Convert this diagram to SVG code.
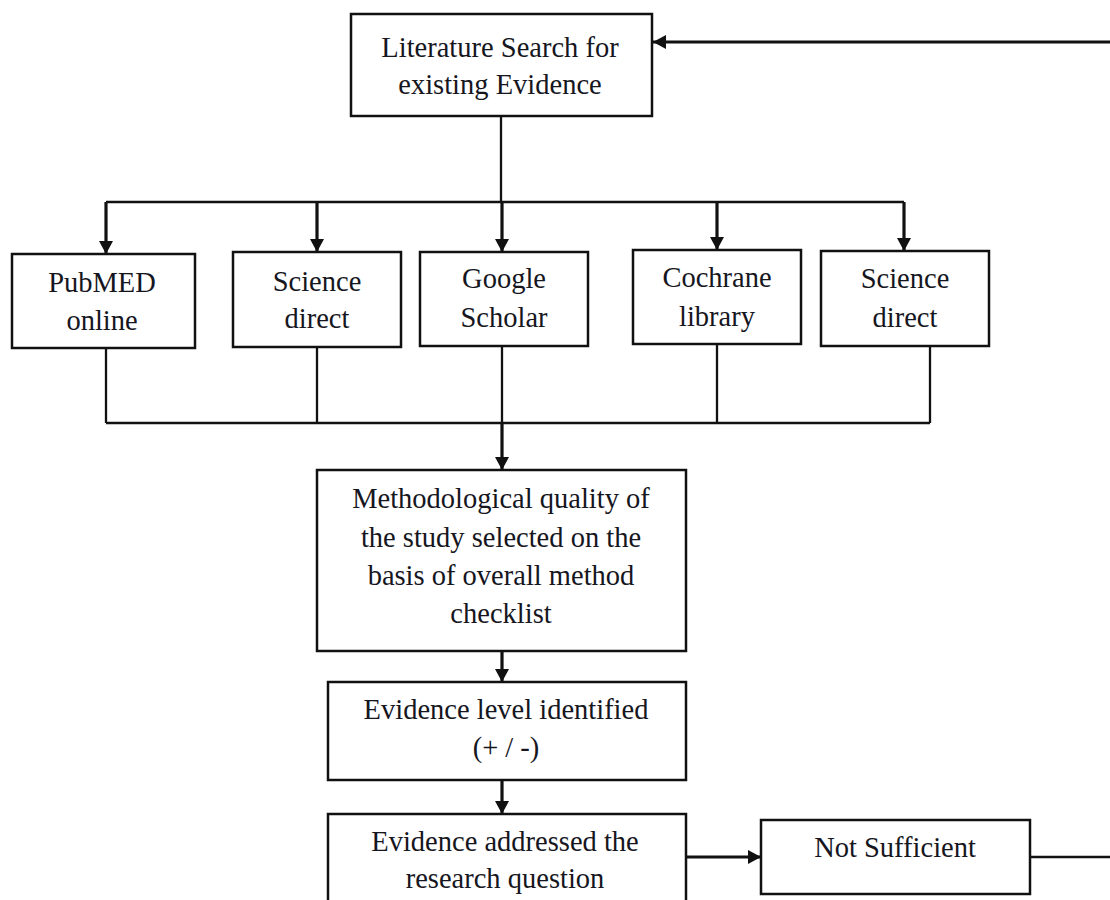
<svg xmlns="http://www.w3.org/2000/svg" width="1110" height="900" viewBox="0 0 1110 900">
<style>
  .box { fill: #ffffff; stroke: #111111; stroke-width: 2.5; }
  .t { font-family: "Liberation Serif", "Times New Roman", serif; font-size: 28.5px; fill: #16161e; text-anchor: middle; }
  .ln { stroke: #111111; stroke-width: 2.3; fill: none; }
  .ar { stroke: #111111; stroke-width: 3.2; fill: none; marker-end: url(#ah); }
</style>
<defs>
  <marker id="ah" markerUnits="userSpaceOnUse" markerWidth="16" markerHeight="16" refX="13" refY="8" orient="auto">
    <path d="M0,1 L13,8 L0,15 z" fill="#111111"/>
  </marker>
</defs>
<rect width="1110" height="900" fill="#ffffff"/>

<g id="connectors">
  <line class="ar" x1="1110" y1="42" x2="653" y2="42"/>
  <line class="ln" x1="501" y1="116" x2="501" y2="202"/>
  <line class="ln" x1="106" y1="202" x2="904" y2="202"/>
  <line class="ar" x1="106" y1="202" x2="106" y2="254"/>
  <line class="ar" x1="317" y1="202" x2="317" y2="252"/>
  <line class="ar" x1="502" y1="202" x2="502" y2="252"/>
  <line class="ar" x1="717" y1="202" x2="717" y2="250"/>
  <line class="ar" x1="904" y1="202" x2="904" y2="251"/>
  <line class="ln" x1="106" y1="348" x2="106" y2="423"/>
  <line class="ln" x1="317" y1="347" x2="317" y2="423"/>
  <line class="ln" x1="502" y1="346" x2="502" y2="423"/>
  <line class="ln" x1="717" y1="344" x2="717" y2="423"/>
  <line class="ln" x1="930" y1="346" x2="930" y2="423"/>
  <line class="ln" x1="106" y1="423" x2="930" y2="423"/>
  <line class="ar" x1="502" y1="423" x2="502" y2="470"/>
  <line class="ar" x1="502" y1="651" x2="502" y2="682"/>
  <line class="ar" x1="502" y1="780" x2="502" y2="814"/>
  <line class="ar" x1="686" y1="857" x2="761" y2="857"/>
  <line class="ln" x1="1030" y1="857" x2="1110" y2="857"/>
</g>

<g id="literature-search">
  <rect class="box" x="351" y="14" width="301" height="102"/>
  <text class="t" x="500" y="57">Literature Search for</text>
  <text class="t" x="500" y="94">existing Evidence</text>
</g>

<g id="pubmed">
  <rect class="box" x="12" y="254" width="183" height="94"/>
  <text class="t" x="102" y="292">PubMED</text>
  <text class="t" x="102" y="330">online</text>
</g>

<g id="science-direct-1">
  <rect class="box" x="233" y="252" width="168" height="95"/>
  <text class="t" x="317" y="291">Science</text>
  <text class="t" x="317" y="328">direct</text>
</g>

<g id="google-scholar">
  <rect class="box" x="420" y="252" width="168" height="94"/>
  <text class="t" x="504" y="288">Google</text>
  <text class="t" x="504" y="327">Scholar</text>
</g>

<g id="cochrane">
  <rect class="box" x="633" y="250" width="168" height="94"/>
  <text class="t" x="717" y="287">Cochrane</text>
  <text class="t" x="717" y="326">library</text>
</g>

<g id="science-direct-2">
  <rect class="box" x="821" y="251" width="168" height="95"/>
  <text class="t" x="905" y="288">Science</text>
  <text class="t" x="905" y="327">direct</text>
</g>

<g id="methodological-quality">
  <rect class="box" x="317" y="470" width="369" height="181"/>
  <text class="t" x="501" y="508">Methodological quality of</text>
  <text class="t" x="501" y="547">the study selected on the</text>
  <text class="t" x="501" y="585">basis of overall method</text>
  <text class="t" x="501" y="623">checklist</text>
</g>

<g id="evidence-level">
  <rect class="box" x="328" y="682" width="358" height="98"/>
  <text class="t" x="506" y="719">Evidence level identified</text>
  <text class="t" x="506" y="757">(+ / -)</text>
</g>

<g id="evidence-addressed">
  <rect class="box" x="328" y="814" width="358" height="100"/>
  <text class="t" x="505" y="851">Evidence addressed the</text>
  <text class="t" x="505" y="888">research question</text>
</g>

<g id="not-sufficient">
  <rect class="box" x="761" y="820" width="269" height="74"/>
  <text class="t" x="895" y="857">Not Sufficient</text>
</g>
</svg>
